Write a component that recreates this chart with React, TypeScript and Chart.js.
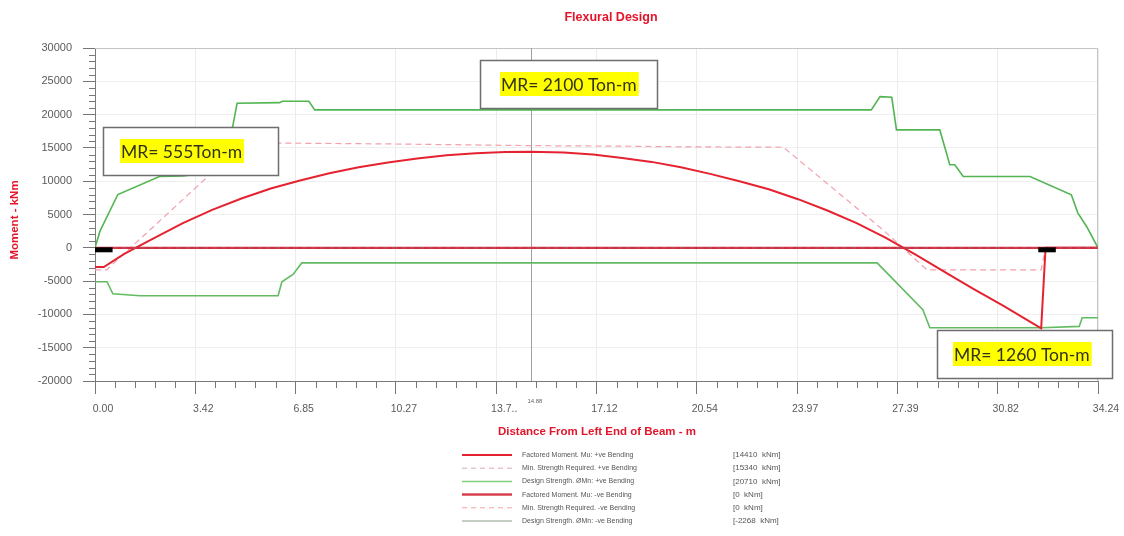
import { useEffect, useRef } from "react";
import { Chart, registerables } from "chart.js";

Chart.register(...registerables);

// ---- beam stations (m) and moments (kNm) ----
const beamLength = 34.24;
const cursorAt = 14.88;

const xTickValues = [0, 3.424, 6.848, 10.272, 13.696, 17.12, 20.544, 23.968, 27.392, 30.816, 34.24];
const xTickLabels = ["0.00", "3.42", "6.85", "10.27", "13.7..", "17.12", "20.54", "23.97", "27.39", "30.82", "34.24"];
const yTickValues = [-20000, -15000, -10000, -5000, 0, 5000, 10000, 15000, 20000, 25000, 30000];

// Factored moment, +ve bending
const muPosX = [0, 0.3, 1, 2, 3, 4, 5, 6, 7, 8, 9, 10, 11, 12, 13, 14, 14.88, 16, 17, 18, 19, 20, 21, 22, 23, 24, 25, 26, 27, 27.6, 28, 29, 30, 31, 32, 32.3, 32.45, 34.24];
const muPosY = [-2900, -2900, -900, 1400, 3700, 5700, 7400, 8900, 10100, 11200, 12100, 12800, 13400, 13900, 14200, 14380, 14410, 14300, 14000, 13500, 12900, 12100, 11100, 10000, 8800, 7300, 5600, 3700, 1500, 0, -1000, -3600, -6200, -8700, -11300, -12100, 0, 0];

// Minimum strength required, +ve bending
const mnPosX = [0, 0.4, 5.1, 10, 14.88, 18.3, 20, 23.5, 26.9, 28.4, 32.3, 32.45, 34.24];
const mnPosY = [-3300, -3300, 15760, 15600, 15340, 15250, 15160, 15100, 2700, -3300, -3300, 0, 0];

// Design strength, +ve bending
const phiPosX = [0, 0.17, 0.78, 2.2, 3.0, 3.42, 4.7, 4.85, 6.3, 6.4, 7.3, 7.5, 26.5, 26.8, 27.2, 27.36, 28.84, 29.18, 29.35, 29.64, 31.92, 33.33, 33.55, 33.85, 34.24];
const phiPosY = [0, 2500, 8000, 10700, 10800, 11000, 18200, 21700, 21800, 22000, 22000, 20710, 20710, 22700, 22600, 17700, 17700, 12460, 12460, 10700, 10700, 7960, 5250, 3200, 0];

// Factored moment and minimum strength, -ve bending
const muNegX = [0, 34.24];
const muNegY = [0, 0];
const mnNegX = [0, 34.24];
const mnNegY = [0, 0];

// Design strength, -ve bending
const phiNegX = [0, 0.41, 0.61, 1.54, 6.25, 6.38, 6.76, 7.06, 26.7, 28.26, 28.5, 32.3, 33.6, 33.7, 34.24];
const phiNegY = [-5100, -5100, -6900, -7200, -7200, -5100, -4000, -2268, -2268, -9300, -12000, -12000, -11800, -10500, -10500];

// Support zones
const leftSupportX = [0, 0.6];
const rightSupportX = [32.2, 32.8];
const supportY = -300;

// Legend rows
const legendLabels = [
  "Factored Moment. Mu: +ve Bending",
  "Min. Strength Required. +ve Bending",
  "Design Strength. ØMn: +ve Bending",
  "Factored Moment. Mu: -ve Bending",
  "Min. Strength Required. -ve Bending",
  "Design Strength. ØMn: -ve Bending",
];
const legendValues = ["[14410  kNm]", "[15340  kNm]", "[20710  kNm]", "[0  kNm]", "[0  kNm]", "[-2268  kNm]"];

// Resistance callouts
const calloutTexts = ["MR= 555Ton-m", "MR= 2100 Ton-m", "MR= 1260 Ton-m"];
const calloutBoxes = [
  { x: 103, y: 127, w: 175, h: 48, tx: 121 },
  { x: 480, y: 60, w: 177, h: 48, tx: 501 },
  { x: 937, y: 330, w: 175, h: 48, tx: 954 },
];

const RED = "#e52330";
const RED_NEG = "#d8283a";
const PINK = "#f2a0ac";
const GREEN = "#52b552";
const GREEN_NEG = "#62bb62";
const TEXT_RED = "#e3152b";
const SANS = '"Liberation Sans", Arial, sans-serif';

const pts = (xs: number[], ys: number[]) => xs.map((x, i) => ({ x, y: ys[i] }));

const legendStyles = [
  { color: RED, width: 2, dash: [] as number[] },
  { color: "#d8a8c0", width: 1, dash: [5, 4] },
  { color: "#7fd07f", width: 1.5, dash: [] as number[] },
  { color: "#d84050", width: 2.5, dash: [] as number[] },
  { color: PINK, width: 1, dash: [5, 4] },
  { color: "#8a9a8a", width: 1, dash: [] as number[] },
];

const overlay = {
  id: "overlay",
  beforeDatasetsDraw(chart: any) {
    const { ctx, chartArea: a, scales } = chart;
    const x = scales.x;
    ctx.save();
    // top and right frame
    ctx.strokeStyle = "#c4c4c4";
    ctx.lineWidth = 1;
    ctx.beginPath();
    ctx.moveTo(a.left, a.top + 0.5);
    ctx.lineTo(a.right - 0.5, a.top + 0.5);
    ctx.lineTo(a.right - 0.5, a.bottom);
    ctx.stroke();
    // cursor line
    const cx = Math.round(x.getPixelForValue(cursorAt)) + 0.5;
    ctx.strokeStyle = "#a0a0a0";
    ctx.beginPath();
    ctx.moveTo(cx, a.top);
    ctx.lineTo(cx, a.bottom);
    ctx.stroke();
    ctx.restore();
  },
  afterDatasetsDraw(chart: any) {
    const { ctx } = chart;
    ctx.save();
    calloutBoxes.forEach((b, i) => {
      ctx.fillStyle = "#ffffff";
      ctx.fillRect(b.x, b.y, b.w, b.h);
      ctx.strokeStyle = "#6e6e6e";
      ctx.lineWidth = 1.5;
      ctx.strokeRect(b.x + 0.5, b.y + 0.5, b.w, b.h);
      ctx.font = `17.5px Lato, ${SANS}`;
      const tw = ctx.measureText(calloutTexts[i]).width;
      const cy = b.y + b.h / 2;
      ctx.fillStyle = "#ffff00";
      ctx.fillRect(b.tx - 1, cy - 12, tw + 3, 24);
      ctx.fillStyle = "#33331a";
      ctx.textBaseline = "middle";
      ctx.textAlign = "left";
      ctx.fillText(calloutTexts[i], b.tx, cy + 1);
    });
    ctx.restore();
  },
  afterDraw(chart: any) {
    const { ctx, chartArea: a, scales } = chart;
    const x = scales.x;
    const y = scales.y;
    ctx.save();
    // minor ticks
    ctx.strokeStyle = "#777";
    ctx.lineWidth = 1;
    ctx.beginPath();
    for (let v = -20000; v <= 30000; v += 1000) {
      if (v % 5000 === 0) continue;
      const py = Math.round(y.getPixelForValue(v)) + 0.5;
      ctx.moveTo(a.left - 6, py);
      ctx.lineTo(a.left, py);
    }
    const minorStep = xTickValues[1] / 5;
    for (let i = 0; i <= 50; i++) {
      if (i % 5 === 0) continue;
      const px = Math.round(x.getPixelForValue(i * minorStep)) + 0.5;
      ctx.moveTo(px, a.bottom);
      ctx.lineTo(px, a.bottom + 7);
    }
    ctx.stroke();

    // cursor value
    ctx.fillStyle = "#666";
    ctx.font = `6px ${SANS}`;
    ctx.textAlign = "center";
    ctx.textBaseline = "middle";
    ctx.fillText(cursorAt.toFixed(2), x.getPixelForValue(cursorAt) + 4, 401);

    // titles
    ctx.fillStyle = TEXT_RED;
    ctx.font = `bold 12.5px ${SANS}`;
    ctx.fillText("Flexural Design", 611, 18);
    ctx.font = `bold 11.5px ${SANS}`;
    ctx.fillText("Distance From Left End of Beam - m", 597, 432);
    ctx.save();
    ctx.translate(15, 220);
    ctx.rotate(-Math.PI / 2);
    ctx.font = `bold 11.5px ${SANS}`;
    ctx.fillText("Moment - kNm", 0, 0);
    ctx.restore();

    // legend
    legendLabels.forEach((label, i) => {
      const ry = 455 + i * 13.2;
      const s = legendStyles[i];
      ctx.strokeStyle = s.color;
      ctx.lineWidth = s.width;
      ctx.setLineDash(s.dash);
      ctx.beginPath();
      ctx.moveTo(462, ry);
      ctx.lineTo(512, ry);
      ctx.stroke();
      ctx.setLineDash([]);
      ctx.fillStyle = "#555";
      ctx.textAlign = "left";
      ctx.font = `7px ${SANS}`;
      ctx.fillText(label, 522, ry);
      ctx.font = `8px ${SANS}`;
      ctx.fillText(legendValues[i], 733, ry);
    });
    ctx.restore();
  },
};

export default function App() {
  const canvasRef = useRef<HTMLCanvasElement | null>(null);

  useEffect(() => {
    const canvas = canvasRef.current;
    if (!canvas) return;
    const line = (data: any[], color: string, width: number, dash: number[] = []) => ({
      data,
      borderColor: color,
      backgroundColor: color,
      borderWidth: width,
      borderDash: dash,
      pointRadius: 0,
      tension: 0,
      fill: false,
    });
    const chart = new Chart(canvas, {
      type: "line",
      data: {
        datasets: [
          line(pts(leftSupportX, [supportY, supportY]), "#000000", 5),
          line(pts(rightSupportX, [supportY, supportY]), "#000000", 5),
          line(pts(mnNegX, mnNegY), "#b05060", 1.2, [5, 4]),
          line(pts(muNegX, muNegY), RED_NEG, 2.2),
          line(pts(muPosX, muPosY), RED, 2),
          line(pts(mnPosX, mnPosY), PINK, 1.2, [6, 4]),
          line(pts(phiPosX, phiPosY), GREEN, 1.6),
          line(pts(phiNegX, phiNegY), GREEN_NEG, 1.6),
        ],
      },
      options: {
        animation: false,
        responsive: false,
        devicePixelRatio: 1,
        events: [],
        layout: { padding: { left: 0, right: 26, top: 48, bottom: 0 } },
        plugins: { legend: { display: false }, tooltip: { enabled: false }, title: { display: false } },
        scales: {
          x: {
            type: "linear",
            min: 0,
            max: beamLength,
            afterFit: (s: any) => {
              s.height = 155;
            },
            afterBuildTicks: (s: any) => {
              s.ticks = xTickValues.map((v) => ({ value: v }));
            },
            ticks: {
              autoSkip: false,
              maxRotation: 0,
              padding: 9,
              labelOffset: 8,
              color: "#5a5a5a",
              font: { family: SANS, size: 10.5 },
              callback: (_v: any, i: number) => xTickLabels[i],
            },
            grid: { color: "#ececec", tickColor: "#777", tickLength: 13, drawTicks: true },
            border: { color: "#7a7a7a", width: 1 },
          },
          y: {
            type: "linear",
            min: -20000,
            max: 30000,
            afterFit: (s: any) => {
              s.width = 95;
            },
            afterBuildTicks: (s: any) => {
              s.ticks = yTickValues.map((v) => ({ value: v }));
            },
            ticks: {
              padding: 11,
              color: "#5a5a5a",
              font: { family: SANS, size: 11 },
              callback: (v: any) => String(v),
            },
            grid: { color: "#efefef", tickColor: "#777", tickLength: 12, drawTicks: true },
            border: { color: "#7a7a7a", width: 1 },
          },
        },
      },
      plugins: [overlay],
    });
    return () => chart.destroy();
  }, []);

  return (
    <div style={{ position: "absolute", left: 0, top: 0, width: 1124, height: 536, background: "#fff" }}>
      <canvas ref={canvasRef} width={1124} height={536} style={{ display: "block" }} />
    </div>
  );
}
